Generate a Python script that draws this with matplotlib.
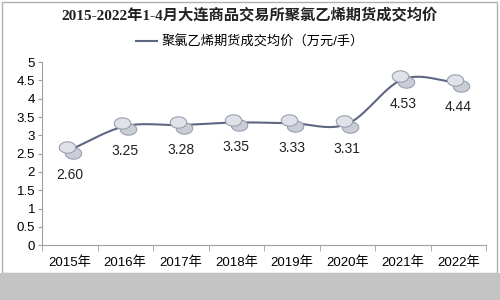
import numpy as np
import matplotlib.pyplot as plt
from matplotlib.path import Path

plt.rcParams['font.family'] = ['Liberation Sans', 'Noto Sans CJK SC', 'DejaVu Sans']

# 数据
years = ['2015年', '2016年', '2017年', '2018年', '2019年', '2020年', '2021年', '2022年']
prices = [2.60, 3.25, 3.28, 3.35, 3.33, 3.31, 4.53, 4.44]
labels = ['2.60', '3.25', '3.28', '3.35', '3.33', '3.31', '4.53', '4.44']
title = '2015-2022年1-4月大连商品交易所聚氯乙烯期货成交均价'
series_name = '聚氯乙烯期货成交均价（万元/手）'


def smooth(x, y, n=30):
    # Catmull-Rom 平滑曲线
    x = np.asarray(x, float)
    y = np.asarray(y, float)
    px = np.concatenate([[2 * x[0] - x[1]], x, [2 * x[-1] - x[-2]]])
    py = np.concatenate([[2 * y[0] - y[1]], y, [2 * y[-1] - y[-2]]])
    xs, ys = [], []
    t = np.linspace(0, 1, n)
    for i in range(1, len(px) - 2):
        for p, out in ((px, xs), (py, ys)):
            p0, p1, p2, p3 = p[i - 1], p[i], p[i + 1], p[i + 2]
            out.extend(0.5 * ((2 * p1) + (-p0 + p2) * t
                              + (2 * p0 - 5 * p1 + 4 * p2 - p3) * t ** 2
                              + (-p0 + 3 * p1 - 3 * p2 + p3) * t ** 3))
    return np.array(xs), np.array(ys)


# 椭圆形“硬币”标记
ang = np.linspace(0, 2 * np.pi, 40)
coin = Path(np.column_stack([1.3 * np.cos(ang), 0.9 * np.sin(ang)]))

fig = plt.figure(figsize=(5, 3), dpi=100)
ax = fig.add_axes([0.084, 0.183, 0.888, 0.61])

x = np.arange(len(years))
sx, sy = smooth(x, prices)
line_color = '#5d6782'
ax.plot(sx, sy, color=line_color, lw=1.5, zorder=2)
ax.plot([], [], color=line_color, lw=1.5, label=series_name)
ax.scatter(x + 0.05, np.array(prices) - 0.08, s=140, marker=coin, facecolor='#c9cdd6',
           edgecolor='#9aa0ae', linewidth=0.8, zorder=3)
ax.scatter(x - 0.05, np.array(prices) + 0.08, s=140, marker=coin, facecolor='#dfe2e8',
           edgecolor='#9aa0ae', linewidth=0.8, zorder=3)

for xi, yi, lb in zip(x, prices, labels):
    ax.text(xi, yi - 0.68, lb, ha='center', va='center', fontsize=10, color='#222222')

ax.set_xlim(-0.5, len(years) - 0.5)
ax.set_ylim(0, 5)
ax.set_yticks(np.arange(0, 5.01, 0.5))
ax.set_yticklabels(['0', '0.5', '1', '1.5', '2', '2.5', '3', '3.5', '4', '4.5', '5'])
ax.set_xticks(x)
ax.set_xticklabels(years)
ax.set_xticks(np.arange(-0.5, len(years), 1), minor=True)
ax.tick_params(axis='x', which='major', length=0, pad=8, labelsize=9.5)
ax.tick_params(axis='x', which='minor', length=4, color='#a0a0a0')
ax.tick_params(axis='y', length=3, color='#a0a0a0', labelsize=9.5, pad=2)
for side in ['top', 'right']:
    ax.spines[side].set_visible(False)
for side in ['left', 'bottom']:
    ax.spines[side].set_color('#a0a0a0')

fig.text(0.5, 0.95, title, ha='center', va='center', fontsize=11,
         fontweight='bold', color='#222222',
         family=['Liberation Serif', 'Noto Sans CJK SC', 'DejaVu Sans'])
fig.legend(loc='center', bbox_to_anchor=(0.5, 0.86), frameon=False, fontsize=9.5,
           handlelength=1.6, handletextpad=0.3)

# 外框与底部灰条
fig.patches.append(plt.Rectangle((0.004, 0.09), 0.99, 0.905, transform=fig.transFigure,
                                 fill=False, edgecolor='#b0b0b0', lw=1))
fig.patches.append(plt.Rectangle((0, 0), 1, 0.09, transform=fig.transFigure,
                                 facecolor='#c4c4c4', edgecolor='none'))

fig.savefig('out.png', dpi=100)
